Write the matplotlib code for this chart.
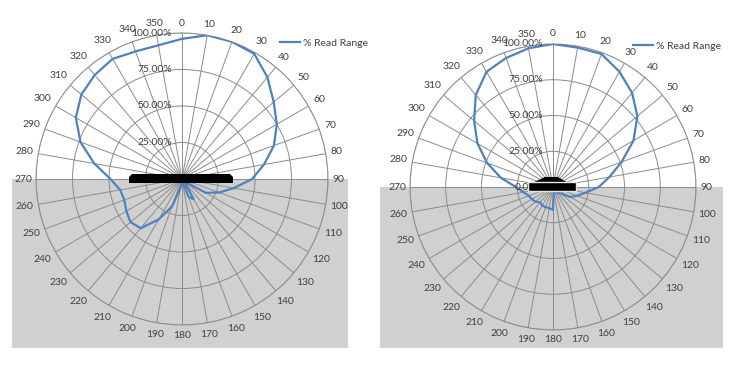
import numpy as np
import matplotlib
matplotlib.use("Agg")
import matplotlib.pyplot as plt
from matplotlib.patches import Rectangle, Polygon

plt.rcParams['font.family'] = ['Lato', 'DejaVu Sans']
plt.rcParams['font.size'] = 7.5
plt.rcParams['text.color'] = '#404040'

W, H = 735, 369

# angle categories of the radar chart (degrees, clockwise from top)
angles = list(range(0, 360, 10))
angle_labels = [str(a) for a in angles]

# % read range, left chart (tag on a flat surface)
left_range = [0.96, 1.00, 1.00, 0.99, 0.91, 0.82, 0.75, 0.67, 0.57, 0.48,
              0.36, 0.27, 0.19, 0.04, 0.03, 0.16, 0.13, 0.02, 0.02, 0.06,
              0.20, 0.32, 0.44, 0.46, 0.44, 0.42, 0.43, 0.49, 0.61, 0.74,
              0.84, 0.90, 0.93, 0.95, 0.93, 0.93]

# % read range, right chart
right_range = [1.00, 0.99, 0.99, 0.93, 0.86, 0.77, 0.65, 0.51, 0.40, 0.32,
               0.23, 0.18, 0.14, 0.07, 0.05, 0.04, 0.03, 0.03, 0.16, 0.15,
               0.15, 0.15, 0.14, 0.16, 0.17, 0.18, 0.21, 0.26, 0.37, 0.49,
               0.61, 0.72, 0.84, 0.93, 0.96, 0.985]

ring_values = [0.0, 0.25, 0.5, 0.75, 1.0]
ring_labels = ['0.00%', '25.00%', '50.00%', '75.00%', '100.00%']
series_name = '% Read Range'

line_col = '#4F81BD'
grid_col = '#8C8C8C'
shade_col = '#D0D0D0'

fig = plt.figure(figsize=(W / 100, H / 100), dpi=100)


def panel(cx, cy, R, values, shade, legend_xy, tag):
    ax = fig.add_axes([(cx - R) / W, (H - cy - R) / H, 2 * R / W, 2 * R / H],
                      projection='polar')
    ax.set_facecolor('none')
    ax.set_theta_zero_location('N')
    ax.set_theta_direction(-1)
    ax.set_ylim(0, 1)
    ax.set_xticks(np.deg2rad(angles))
    ax.set_xticklabels([])
    ax.set_yticks(ring_values[1:])
    ax.set_yticklabels([])
    ax.grid(True, color=grid_col, lw=0.7)
    ax.spines['polar'].set_color(grid_col)
    ax.spines['polar'].set_linewidth(0.7)

    theta = np.deg2rad(angles + [angles[0]])
    ax.plot(theta, values + [values[0]], color=line_col, lw=1.6,
            label=series_name, zorder=3)

    # shaded lower half (behind the tag)
    x0, x1, y1 = shade
    fig.add_artist(Rectangle((x0 / W, 1 - y1 / H), (x1 - x0) / W, (y1 - cy) / H,
                             transform=fig.transFigure, facecolor=shade_col,
                             edgecolor='none', zorder=-1))

    # angle labels around the outside
    for a, lab in zip(angles, angle_labels):
        t = np.deg2rad(a)
        d = 4 + abs(np.sin(t)) * 3 * len(lab) + abs(np.cos(t)) * 6
        rr = (R + d) / (2 * R)
        ax.text(0.5 + rr * np.sin(t), 0.5 + rr * np.cos(t), lab,
                transform=ax.transAxes, ha='center', va='center')

    # radial value labels
    for v, lab in zip(ring_values, ring_labels):
        ax.text(0.5 - 10 / (2 * R), 0.5 + v / 2, lab, transform=ax.transAxes,
                ha='right', va='center', zorder=4)

    # tag drawn over the centre
    for pts, ec in tag:
        xy = [(0.5 + px / (2 * R), 0.5 + py / (2 * R)) for px, py in pts]
        ax.add_patch(Polygon(xy, closed=True, transform=ax.transAxes,
                             facecolor='black', edgecolor=ec, lw=1,
                             clip_on=False, zorder=6))

    lx, ly = legend_xy
    ax.legend(loc='center left', bbox_to_anchor=(lx / W, 1 - ly / H),
              bbox_transform=fig.transFigure, frameon=False, borderpad=0,
              borderaxespad=0, handlelength=1.9, handletextpad=0.3)
    return ax


left_tag = [([(-53, -4), (51, -4), (51, 2), (48, 5), (-50, 5), (-53, 2)], 'none')]
right_tag = [([(-21, 4), (15, 4), (5, 10), (-8, 10)], 'none'),
             ([(-25, -4), (23, -4), (23, 5), (-25, 5)], '#E6E6E6')]

panel(182, 179, 146, left_range, (12, 348, 348), (280, 43), left_tag)
panel(553, 187, 143, right_range, (380, 723, 348), (633, 46), right_tag)

fig.savefig('out.png', dpi=100)
